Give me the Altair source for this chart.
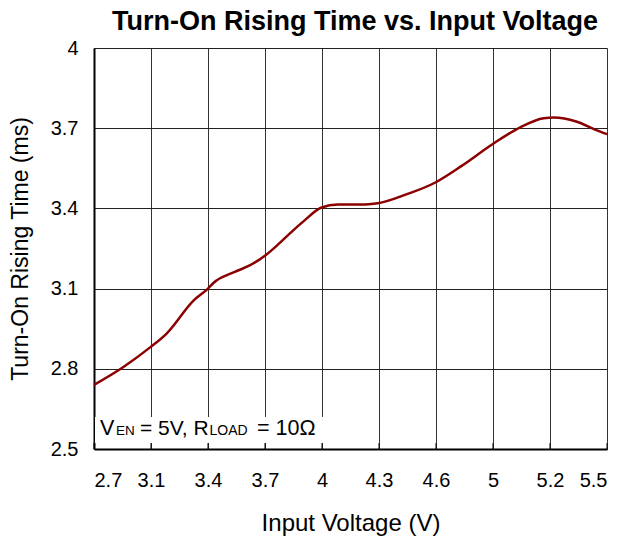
import altair as alt
import pandas as pd

# x positions in axis grid units (0 = 2.7 tick, 9 = 5.5 tick)
x_pos = [0, 0.51, 0.99, 1.27, 1.75, 2.0, 2.1, 2.47, 2.74, 3.01, 3.25, 3.49, 3.7,
         3.98, 4.28, 4.76, 4.98, 5.48, 5.98, 6.45, 6.99, 7.47, 7.89, 8.07, 8.46, 8.8, 9.0]
rise_ms = [2.74, 2.806, 2.881, 2.931, 3.056, 3.10, 3.122, 3.1625, 3.1875, 3.225, 3.269, 3.317, 3.356,
           3.4025, 3.415, 3.415, 3.419, 3.4525, 3.496, 3.559, 3.64, 3.7025, 3.7375, 3.74, 3.725, 3.694, 3.6775]
x_tick_labels = ["2.7", "3.1", "3.4", "3.7", "4", "4.3", "4.6", "5", "5.2", "5.5"]
x_tick_pos = list(range(10))
y_ticks = [2.5, 2.8, 3.1, 3.4, 3.7, 4.0]
title_text = "Turn-On Rising Time vs. Input Voltage"

df = pd.DataFrame({"x": x_pos, "y": rise_ms})
one = pd.DataFrame({"a": [0]})
ticks_df = pd.DataFrame({"x": x_tick_pos, "y": [2.5] * 10, "y2": [2.522] * 10})

FONT = "Liberation Sans"
label_expr = "[" + ",".join("'%s'" % s for s in x_tick_labels) + "][datum.value]"

x_scale = alt.Scale(domain=[0, 9], nice=False, zero=False)
y_scale = alt.Scale(domain=[2.5, 4.0], nice=False, zero=False)

x_enc = alt.X("x:Q", scale=x_scale,
              axis=alt.Axis(values=x_tick_pos, labelExpr=label_expr,
                            title="Input Voltage (V)", grid=True, gridColor="#333333",
                            gridWidth=1, gridOpacity=1, ticks=False, labelPadding=21,
                            labelFontSize=20, labelFont=FONT, labelColor="black",
                            titleFont=FONT, titleFontSize=24, titleFontWeight="normal",
                            titleColor="black", titlePadding=21,
                            domainColor="black", domainWidth=2))
y_enc = alt.Y("y:Q", scale=y_scale,
              axis=alt.Axis(values=y_ticks, format=".1~f",
                            title="Turn-On Rising Time (ms)", grid=True, gridColor="#222222",
                            gridWidth=1, gridOpacity=1, ticks=False, labelPadding=16,
                            labelFontSize=20, labelFont=FONT, labelColor="black",
                            titleFont=FONT, titleFontSize=23, titleFontWeight="normal",
                            titleColor="black", titlePadding=18,
                            domainColor="black", domainWidth=2))

line = alt.Chart(df).mark_line(color="#8B0000", strokeWidth=2.5, interpolate="monotone").encode(
    x=x_enc, y=y_enc)

box = alt.Chart(one).mark_rect(color="white").encode(
    x=alt.value(1), x2=alt.value(232), y=alt.value(369), y2=alt.value(395))

inner_ticks = alt.Chart(ticks_df).mark_rule(color="black", strokeWidth=1).encode(
    x=alt.X("x:Q", scale=x_scale), y=alt.Y("y:Q", scale=y_scale), y2="y2:Q")

ann_parts = [("V", 6, 21.5), ("EN", 22, 13.5), ("= 5V, R", 46, 21), ("LOAD", 115.5, 14),
             ("= 10Ω", 163, 21.5)]
texts = []
for t, px, fs in ann_parts:
    texts.append(alt.Chart(one).mark_text(text=t, align="left", baseline="alphabetic",
                                          font=FONT, fontSize=fs, color="black").encode(
        x=alt.value(px), y=alt.value(387)))

title = alt.Chart(one).mark_text(text=title_text, align="center", baseline="alphabetic",
                                 font=FONT, fontSize=27, fontWeight="bold", color="black").encode(
    x=alt.value(261), y=alt.value(-18))

chart = alt.layer(line, box, inner_ticks, *texts, title).properties(
    width=513, height=401,
    autosize=alt.AutoSizeParams(type="none"),
    padding={"left": 86, "top": 40, "right": 6, "bottom": 92},
).configure_view(stroke="black", strokeWidth=1.5).configure(background="white")

chart.save("out.html", embed_options={"renderer": "svg", "actions": False})
